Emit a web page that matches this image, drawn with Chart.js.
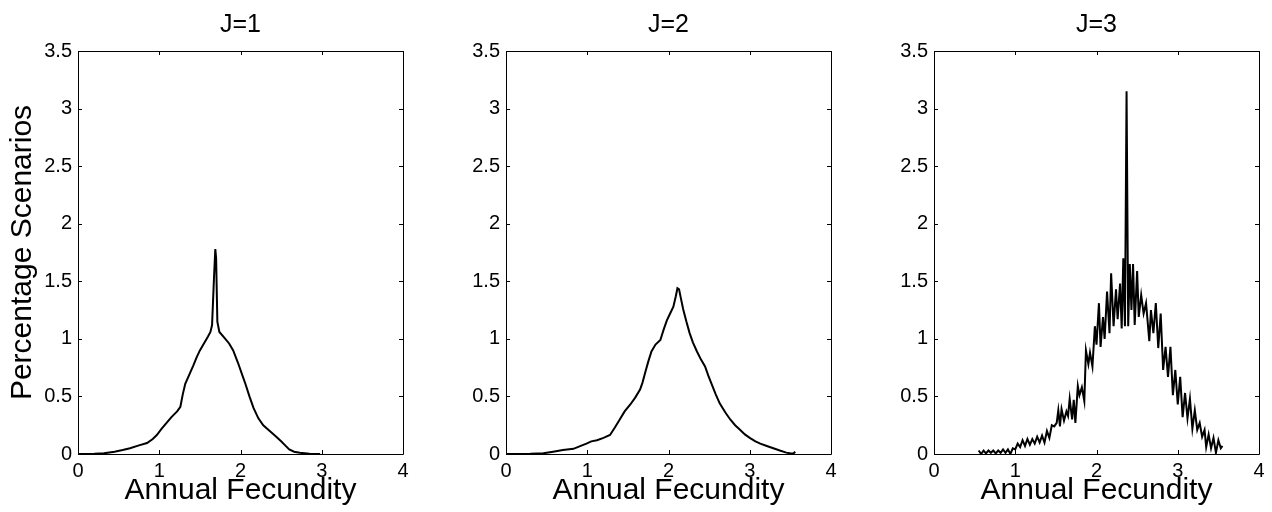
<!DOCTYPE html>
<html>
<head>
<meta charset="utf-8">
<script src="https://cdn.jsdelivr.net/npm/chart.js@4.4.0/dist/chart.umd.min.js"></script>
<style>
    body { margin: 0; background: #fff; width: 1272px; height: 512px; overflow: hidden; position: relative; }
    .panel { position: absolute; top: 0; height: 512px; }
</style>
</head>
<body>
<div class="panel" style="left:0px;width:418px"><canvas id="chart_1"></canvas></div>
<div class="panel" style="left:446px;width:400px"><canvas id="chart_2"></canvas></div>
<div class="panel" style="left:874px;width:400px"><canvas id="chart_3"></canvas></div>
<script>
// tick labels
const x_ticks = [0, 1, 2, 3, 4];
const y_ticks = [0, 0.5, 1, 1.5, 2, 2.5, 3, 3.5];
const panel_titles = ['J=1', 'J=2', 'J=3'];

// J=1
const j1_x = [0, 0.2, 0.32, 0.45, 0.55, 0.64, 0.75, 0.85, 0.92, 0.97, 1.03, 1.09, 1.15, 1.22, 1.26, 1.29, 1.32, 1.37,
    1.42, 1.46, 1.5, 1.55, 1.6, 1.63, 1.65, 1.675, 1.69, 1.7, 1.715, 1.74, 1.8, 1.86, 1.91, 1.97, 2.02, 2.06, 2.11,
    2.16, 2.22, 2.28, 2.36, 2.44, 2.5, 2.55, 2.6, 2.66, 2.73, 2.85, 2.98];
const j1_y = [0, 0.002, 0.006, 0.02, 0.035, 0.05, 0.075, 0.095, 0.13, 0.165, 0.22, 0.27, 0.32, 0.37, 0.41, 0.52, 0.61, 0.69,
    0.77, 0.84, 0.9, 0.96, 1.02, 1.06, 1.12, 1.55, 1.78, 1.7, 1.15, 1.06, 1.01, 0.96, 0.9, 0.79, 0.69, 0.61, 0.5,
    0.4, 0.31, 0.25, 0.2, 0.15, 0.11, 0.075, 0.04, 0.02, 0.01, 0.003, 0];

// J=2
const j2_x = [0, 0.3, 0.46, 0.58, 0.7, 0.83, 0.92, 0.99, 1.05, 1.12, 1.2, 1.28, 1.34, 1.4, 1.46, 1.53, 1.59, 1.65, 1.68,
    1.71, 1.75, 1.79, 1.84, 1.9, 1.94, 1.98, 2.02, 2.06, 2.09, 2.11, 2.13, 2.15, 2.18, 2.22, 2.26, 2.3, 2.35, 2.4,
    2.45, 2.49, 2.53, 2.58, 2.63, 2.7, 2.76, 2.82, 2.88, 2.94, 3.0, 3.07, 3.13, 3.21, 3.29, 3.37, 3.45, 3.51, 3.54, 3.56];
const j2_y = [0, 0.002, 0.006, 0.02, 0.035, 0.045, 0.07, 0.09, 0.11, 0.12, 0.14, 0.165, 0.23, 0.3, 0.37, 0.43, 0.49, 0.56, 0.62,
    0.7, 0.8, 0.89, 0.95, 0.99, 1.08, 1.16, 1.22, 1.28, 1.37, 1.44, 1.43, 1.36, 1.26, 1.15, 1.05, 0.97, 0.89, 0.82,
    0.76, 0.68, 0.61, 0.52, 0.44, 0.36, 0.3, 0.25, 0.21, 0.17, 0.14, 0.11, 0.09, 0.07, 0.05, 0.03, 0.012, 0.005, 0.006, 0.02];

// J=3
const j3_x = [0.55, 0.58, 0.61, 0.64, 0.67, 0.7, 0.73, 0.76, 0.79, 0.82, 0.85, 0.88, 0.91, 0.94, 0.97, 1.0, 1.03, 1.06,
    1.09, 1.12, 1.15, 1.18, 1.21, 1.24, 1.27, 1.3, 1.33, 1.36, 1.39, 1.42, 1.45, 1.48, 1.51, 1.53, 1.55, 1.57, 1.6,
    1.63, 1.65, 1.67, 1.7, 1.72, 1.74, 1.77, 1.79, 1.82, 1.85, 1.87, 1.9, 1.92, 1.95, 1.98, 2.0, 2.03, 2.05, 2.08,
    2.1, 2.13, 2.16, 2.18, 2.21, 2.24, 2.26, 2.29, 2.31, 2.33, 2.35, 2.37, 2.39, 2.41, 2.43, 2.45, 2.47, 2.5, 2.52,
    2.55, 2.58, 2.61, 2.65, 2.67, 2.7, 2.73, 2.76, 2.79, 2.82, 2.85, 2.88, 2.91, 2.94, 2.97, 3.0, 3.03, 3.06, 3.09,
    3.12, 3.15, 3.18, 3.21, 3.24, 3.27, 3.3, 3.33, 3.35, 3.38, 3.41, 3.44, 3.47, 3.5, 3.53, 3.55];
const j3_y = [0.03, 0.0, 0.03, 0.005, 0.03, 0.01, 0.03, 0.005, 0.03, 0.01, 0.04, 0.01, 0.04, 0.0, 0.05, 0.04, 0.09, 0.06,
    0.12, 0.07, 0.13, 0.08, 0.13, 0.09, 0.15, 0.1, 0.16, 0.1, 0.2, 0.14, 0.25, 0.24, 0.27, 0.38, 0.24, 0.39, 0.29,
    0.37, 0.33, 0.48, 0.3, 0.47, 0.27, 0.59, 0.51, 0.58, 0.46, 0.9, 0.78, 0.88, 0.76, 1.11, 0.95, 1.31, 0.93, 1.19,
    1.0, 1.41, 1.05, 1.57, 1.11, 1.43, 1.17, 1.48, 1.09, 1.7, 1.11, 3.15, 1.11, 1.65, 1.25, 1.65, 1.12, 1.59, 1.19,
    1.38, 1.22, 1.31, 0.98, 1.25, 1.05, 1.31, 0.92, 1.22, 0.73, 0.93, 0.67, 0.93, 0.51, 0.73, 0.43, 0.67, 0.32, 0.53,
    0.31, 0.48, 0.22, 0.38, 0.21, 0.27, 0.15, 0.21, 0.06, 0.17, 0.05, 0.14, 0.01, 0.12, 0.05, 0.07];

const font_family = "'Liberation Sans', Arial, Helvetica, sans-serif";

function to_points(xs, ys) {
    return xs.map((x, i) => ({x: x, y: ys[i]}));
}

// matlab style box with inward ticks
const box_plugin = {
    id: 'box_plugin',
    afterDraw(chart) {
        const ctx = chart.ctx;
        const a = chart.chartArea;
        const xs = chart.scales.x;
        const ys = chart.scales.y;
        const len = 4;
        ctx.save();
        ctx.strokeStyle = '#000';
        ctx.lineWidth = 1;
        ctx.beginPath();
        ctx.rect(Math.round(a.left) + 0.5, Math.round(a.top) + 0.5, Math.round(a.right - a.left), Math.round(a.bottom - a.top));
        x_ticks.forEach(v => {
            const px = Math.round(xs.getPixelForValue(v)) + 0.5;
            ctx.moveTo(px, a.bottom);
            ctx.lineTo(px, a.bottom - len);
            ctx.moveTo(px, a.top);
            ctx.lineTo(px, a.top + len);
        });
        y_ticks.forEach(v => {
            const py = Math.round(ys.getPixelForValue(v)) + 0.5;
            ctx.moveTo(a.left, py);
            ctx.lineTo(a.left + len, py);
            ctx.moveTo(a.right, py);
            ctx.lineTo(a.right - len, py);
        });
        ctx.stroke();
        ctx.restore();
    }
};

function make_panel(canvas_id, title, xs, ys, show_y_title) {
    const ctx = document.getElementById(canvas_id).getContext('2d');
    return new Chart(ctx, {
        type: 'line',
        data: {
            datasets: [{
                data: to_points(xs, ys),
                borderColor: '#000',
                borderWidth: 2,
                pointRadius: 0,
                tension: 0,
                fill: false
            }]
        },
        options: {
            responsive: true,
            maintainAspectRatio: false,
            animation: false,
            layout: {padding: {left: 0, right: 15, top: 0, bottom: 0}},
            plugins: {legend: {display: false}, tooltip: {enabled: false}},
            scales: {
                x: {
                    type: 'linear',
                    min: 0,
                    max: 4,
                    afterBuildTicks: s => { s.ticks = x_ticks.map(v => ({value: v})); },
                    afterFit: s => { s.height = 58; },
                    grid: {display: false, drawTicks: false},
                    border: {display: false},
                    ticks: {color: '#000', padding: 5, maxRotation: 0, font: {family: font_family, size: 20}, callback: v => String(v)},
                    title: {display: true, text: 'Annual Fecundity', color: '#000', padding: {top: 0, bottom: 3}, font: {family: font_family, size: 30}}
                },
                x2: {
                    type: 'linear',
                    position: 'top',
                    min: 0,
                    max: 4,
                    afterFit: s => { s.height = 51; },
                    grid: {display: false, drawTicks: false},
                    border: {display: false},
                    ticks: {display: false},
                    title: {display: true, text: title, color: '#000', padding: {top: 10, bottom: 0}, font: {family: font_family, size: 25}}
                },
                y: {
                    type: 'linear',
                    min: 0,
                    max: 3.5,
                    afterBuildTicks: s => { s.ticks = y_ticks.map(v => ({value: v})); },
                    afterFit: s => { s.width = show_y_title ? 78 : 60; },
                    grid: {display: false, drawTicks: false},
                    border: {display: false},
                    ticks: {color: '#000', padding: 6, font: {family: font_family, size: 20}, callback: v => String(v)},
                    title: {display: show_y_title, text: 'Percentage Scenarios', color: '#000', padding: {top: 5, bottom: 0}, font: {family: font_family, size: 30}}
                }
            }
        },
        plugins: [box_plugin]
    });
}

make_panel('chart_1', panel_titles[0], j1_x, j1_y, true);
make_panel('chart_2', panel_titles[1], j2_x, j2_y, false);
make_panel('chart_3', panel_titles[2], j3_x, j3_y, false);
</script>
</body>
</html>
